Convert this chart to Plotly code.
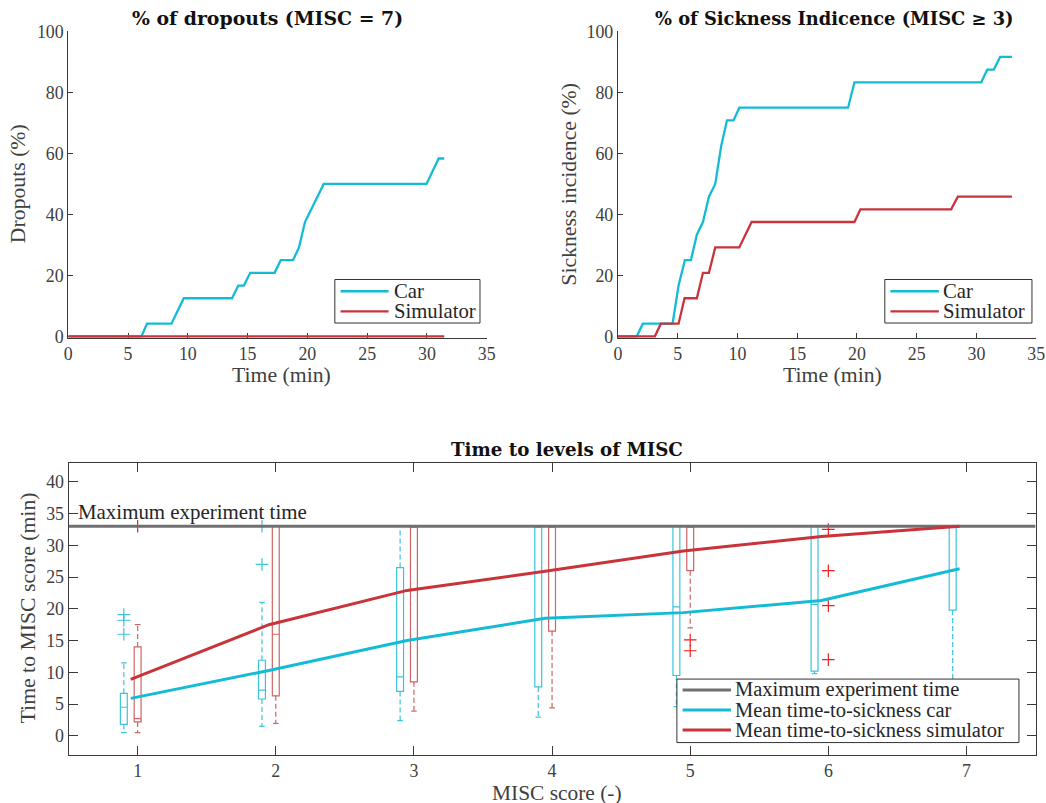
import plotly.graph_objects as go

W, H = 1050, 822

# screen-space layout helpers: the page is shown slightly reduced and offset,
# so layout pixels are converted before going into paper fractions
SX, CX = 0.9866, 3.8
SY, CY = 0.974, 10.6
FS = 1 / 0.98  # font scale

FONT = "Liberation Serif"
TITLE_FONT = "DejaVu Serif"
CAR = "#13BBD5"
SIM = "#C8343A"
CAR_BOX = "#3CC3DA"
SIM_BOX = "#CF6464"
OUT_RED = "#F01E1E"
GREY = "#707070"
AX = "#3a3a3a"
TXT = "#404040"

# ---- Dropouts over time (%)
drop_car_t = [0, 6.12, 6.59, 8.63, 9.66, 13.7, 14.22, 14.69, 15.22, 17.26, 17.77,
              18.8, 19.3, 19.8, 21.37, 29.97, 30.98, 31.45]
drop_car_p = [0, 0, 4.17, 4.17, 12.5, 12.5, 16.67, 16.67, 20.83, 20.83, 25.0,
              25.0, 29.17, 37.5, 50.0, 50.0, 58.33, 58.33]
drop_sim_t = [0, 31.45]
drop_sim_p = [0, 0]

# ---- Sickness incidence over time (%)
sick_car_t = [0, 1.59, 2.09, 4.58, 5.08, 5.61, 6.11, 6.61, 7.12, 7.62, 8.15, 8.65,
              9.13, 9.68, 10.16, 19.26, 19.79, 30.4, 30.9, 31.45, 31.98, 32.96]
sick_car_p = [0, 0, 4.17, 4.17, 16.67, 25.0, 25.0, 33.33, 37.5, 45.83, 50.0, 62.5,
              70.83, 70.83, 75.0, 75.0, 83.33, 83.33, 87.5, 87.5, 91.67, 91.67]
sick_sim_t = [0, 3.1, 3.6, 5.08, 5.58, 6.61, 7.12, 7.62, 8.15, 10.16, 11.19,
              19.79, 20.29, 27.88, 28.44, 32.96]
sick_sim_p = [0, 0, 4.17, 4.17, 12.5, 12.5, 20.83, 20.83, 29.17, 29.17, 37.5,
              37.5, 41.67, 41.67, 45.83, 45.83]

# ---- Time to each MISC level (min)
misc_levels = [1, 2, 3, 4, 5, 6, 7]
max_time = 33

car_lower = [0.5, 1.5, 2.4, 2.95, 4.6, 9.8, 5.0]
car_q1 = [1.8, 5.8, 7.0, 7.7, 9.5, 10.2, 19.8]
car_median = [4.5, 7.2, 9.3, 33, 20.3, 20.7, 33]
car_q3 = [6.7, 11.9, 26.5, 33, 33, 33, 33]
car_upper = [11.5, 21.0, 33, 33, 33, 33, 33]
car_outliers = {1: [16.0, 18.2, 19.1], 2: [27.0, 33.0]}

sim_lower = [0.5, 1.95, 3.9, 4.4, 17.0, 33, 33]
sim_q1 = [2.2, 6.3, 8.5, 16.5, 26.0, 33, 33]
sim_median = [2.7, 16.0, 33, 33, 33, 33, 33]
sim_q3 = [14.0, 33, 33, 33, 33, 33, 33]
sim_upper = [17.5, 33, 33, 33, 33, 33, 33]
sim_outliers = {1: [33.0], 5: [15.1, 13.4], 6: [32.5, 26.0, 20.5, 12.0]}

car_mean = [5.9, 10.3, 15.0, 18.5, 19.4, 21.3, 26.3]
sim_mean = [8.9, 17.5, 22.9, 25.9, 29.1, 31.4, 33.0]

CAR_OFF, SIM_OFF, MEAN_OFF = -0.1, 0.0, -0.05


def px_x(p):
    return (p - CX) / SX / W


def px_y(p):
    return 1 - (p - CY) / SY / H


fig = go.Figure()

# top-left
fig.add_trace(go.Scatter(x=drop_car_t, y=drop_car_p, mode="lines", name="Car",
                         line=dict(color=CAR, width=2.3), xaxis="x", yaxis="y", showlegend=False))
fig.add_trace(go.Scatter(x=drop_sim_t, y=drop_sim_p, mode="lines", name="Simulator",
                         line=dict(color=SIM, width=2.3), xaxis="x", yaxis="y", showlegend=False))
# top-right
fig.add_trace(go.Scatter(x=sick_car_t, y=sick_car_p, mode="lines", name="Car",
                         line=dict(color=CAR, width=2.3), xaxis="x2", yaxis="y2", showlegend=False))
fig.add_trace(go.Scatter(x=sick_sim_t, y=sick_sim_p, mode="lines", name="Simulator",
                         line=dict(color=SIM, width=2.3), xaxis="x2", yaxis="y2", showlegend=False))


def box_trace(pos, q1, med, q3, color):
    return go.Box(x=pos, q1=q1, median=med, q3=q3, lowerfence=q1, upperfence=q3,
                  width=0.05, whiskerwidth=0, fillcolor="rgba(0,0,0,0)",
                  line=dict(color=color, width=1.2), boxpoints=False,
                  xaxis="x3", yaxis="y3", showlegend=False, hoverinfo="skip")


def whisker_trace(pos, lower, q1, q3, upper, color):
    xs, ys = [], []
    for p, lo, a, b, hi in zip(pos, lower, q1, q3, upper):
        if hi > b:
            xs += [p, p, None]
            ys += [b, hi, None]
        if lo < a:
            xs += [p, p, None]
            ys += [a, lo, None]
    return go.Scatter(x=xs, y=ys, mode="lines", line=dict(color=color, width=1.2, dash="5px,3px"),
                      xaxis="x3", yaxis="y3", showlegend=False, hoverinfo="skip")


def cap_trace(pos, lower, q1, q3, upper, color):
    xs, ys = [], []
    for p, lo, a, b, hi in zip(pos, lower, q1, q3, upper):
        if hi > b and hi < max_time:
            xs.append(p); ys.append(hi)
        if lo < a:
            xs.append(p); ys.append(lo)
    return go.Scatter(x=xs, y=ys, mode="markers",
                      marker=dict(symbol="line-ew", size=4, line=dict(color=color, width=1.2)),
                      xaxis="x3", yaxis="y3", showlegend=False, hoverinfo="skip")


def outlier_trace(offset, outliers, color):
    xs, ys = [], []
    for lvl, vals in outliers.items():
        for v in vals:
            xs.append(lvl + offset); ys.append(v)
    return go.Scatter(x=xs, y=ys, mode="markers",
                      marker=dict(symbol="cross-thin", size=9, line=dict(color=color, width=1.2)),
                      xaxis="x3", yaxis="y3", showlegend=False, hoverinfo="skip")


car_pos = [m + CAR_OFF for m in misc_levels]
sim_pos = [m + SIM_OFF for m in misc_levels]

fig.add_trace(box_trace(car_pos, car_q1, car_median, car_q3, CAR_BOX))
fig.add_trace(box_trace(sim_pos, sim_q1, sim_median, sim_q3, SIM_BOX))
fig.add_trace(whisker_trace(car_pos, car_lower, car_q1, car_q3, car_upper, CAR_BOX))
fig.add_trace(whisker_trace(sim_pos, sim_lower, sim_q1, sim_q3, sim_upper, SIM_BOX))
fig.add_trace(cap_trace(car_pos, car_lower, car_q1, car_q3, car_upper, CAR_BOX))
fig.add_trace(cap_trace(sim_pos, sim_lower, sim_q1, sim_q3, sim_upper, SIM_BOX))
fig.add_trace(outlier_trace(CAR_OFF, car_outliers, CAR_BOX))
fig.add_trace(outlier_trace(SIM_OFF, sim_outliers, OUT_RED))

fig.add_trace(go.Scatter(x=[0.5, 7.5], y=[max_time, max_time], mode="lines",
                         name="Maximum experiment time", line=dict(color=GREY, width=3),
                         xaxis="x3", yaxis="y3", showlegend=False))
mean_pos = [m + MEAN_OFF for m in misc_levels]
fig.add_trace(go.Scatter(x=mean_pos, y=car_mean, mode="lines", name="Mean time-to-sickness car",
                         line=dict(color=CAR, width=3), xaxis="x3", yaxis="y3", showlegend=False))
fig.add_trace(go.Scatter(x=mean_pos, y=sim_mean, mode="lines", name="Mean time-to-sickness simulator",
                         line=dict(color=SIM, width=3), xaxis="x3", yaxis="y3", showlegend=False))

axis_common = dict(showgrid=False, zeroline=False, showline=True, linecolor=AX, linewidth=1,
                   ticks="inside", tickcolor=AX, layer="below traces",
                   tickfont=dict(family=FONT, size=17.5 * FS, color=TXT))

Y0_PAD = 0.5
top_y0 = 336 + Y0_PAD * 3.04
fig.update_layout(
    width=W, height=H, margin=dict(l=0, r=0, t=0, b=0),
    paper_bgcolor="white", plot_bgcolor="white",
    font=dict(family=FONT, color=TXT),
    showlegend=False,
    xaxis=dict(domain=[px_x(68), px_x(486)], range=[0, 35], dtick=5, ticklen=5,
               anchor="y", **axis_common),
    yaxis=dict(domain=[px_y(top_y0), px_y(32)], range=[-Y0_PAD, 100], tickvals=[0, 20, 40, 60, 80, 100],
               ticklen=5, anchor="x", **axis_common),
    xaxis2=dict(domain=[px_x(617), px_x(1035)], range=[0, 35], dtick=5, ticklen=5,
                anchor="y2", **axis_common),
    yaxis2=dict(domain=[px_y(top_y0), px_y(32)], range=[-Y0_PAD, 100], tickvals=[0, 20, 40, 60, 80, 100],
                ticklen=5, anchor="x2", **axis_common),
    xaxis3=dict(domain=[px_x(68.3), px_x(1034.3)], range=[0.5, 7.5], tickvals=misc_levels,
                ticklen=9, mirror="ticks", anchor="y3", **axis_common),
    yaxis3=dict(domain=[px_y(753.3), px_y(462)], range=[-3, 43], tickvals=list(range(0, 41, 5)),
                ticklen=9, mirror="ticks", anchor="x3", **axis_common),
)

shapes, ann = [], []


def text(x, y, s, size=21.3, bold=False, angle=0, color=TXT, family=FONT, xanchor="center"):
    ann.append(dict(x=px_x(x), y=px_y(y), xref="paper", yref="paper", text=f"<b>{s}</b>" if bold else s,
                    showarrow=False, textangle=angle, xanchor=xanchor, yanchor="middle",
                    font=dict(family=family, size=size * FS, color=color)))


def legend(box, line_x, text_x, rows, size=20.3):
    x0, y0, x1, y1 = box
    shapes.append(dict(type="rect", xref="paper", yref="paper", layer="above",
                       x0=px_x(x0), x1=px_x(x1), y0=px_y(y1), y1=px_y(y0),
                       fillcolor="white", line=dict(color="#333333", width=1)))
    for label, color, width, y in rows:
        shapes.append(dict(type="line", xref="paper", yref="paper", layer="above",
                           x0=px_x(line_x[0]), x1=px_x(line_x[1]), y0=px_y(y), y1=px_y(y),
                           line=dict(color=color, width=width)))
        text(text_x, y, label, size=size, color="#262626", xanchor="left")


legend((334.3, 279.3, 479.3, 322.7), (340, 388), 391,
       [("Car", CAR, 2.3, 291), ("Simulator", SIM, 2.3, 311)])
legend((883.7, 279.3, 1030.7, 322.7), (889.3, 937.7), 940,
       [("Car", CAR, 2.3, 291), ("Simulator", SIM, 2.3, 311)])
legend((676, 677.7, 1017.7, 741), (681.7, 730), 732.5,
       [("Maximum experiment time", GREY, 3, 688.5),
        ("Mean time-to-sickness car", CAR, 3, 708.5),
        ("Mean time-to-sickness simulator", SIM, 3, 728.5)], size=20.1)

text(267, 19, "% of dropouts (MISC = 7)", size=18.5, bold=True, color="#111111", family=TITLE_FONT)
text(833, 19, "% of Sickness Indicence (MISC ≥ 3)", size=17.5, bold=True, color="#111111", family=TITLE_FONT)
text(566, 449, "Time to levels of MISC", size=17.9, bold=True, color="#111111", family=TITLE_FONT)
text(281, 374.5, "Time (min)")
text(831, 374.5, "Time (min)")
text(556, 791.5, "MISC score (-)", size=21)
text(18, 184, "Dropouts (%)", angle=-90)
text(568, 184, "Sickness incidence (%)", angle=-90)
text(28, 607, "Time to MISC score (min)", angle=-90)

ann.append(dict(x=0.5 + 0.052, y=max_time, xref="x3", yref="y3", text="Maximum experiment time",
                showarrow=False, xanchor="left", yanchor="bottom",
                font=dict(family=FONT, size=20.5 * FS, color="#262626")))
fig.update_layout(annotations=ann, shapes=shapes)

fig.write_html("out.html")
